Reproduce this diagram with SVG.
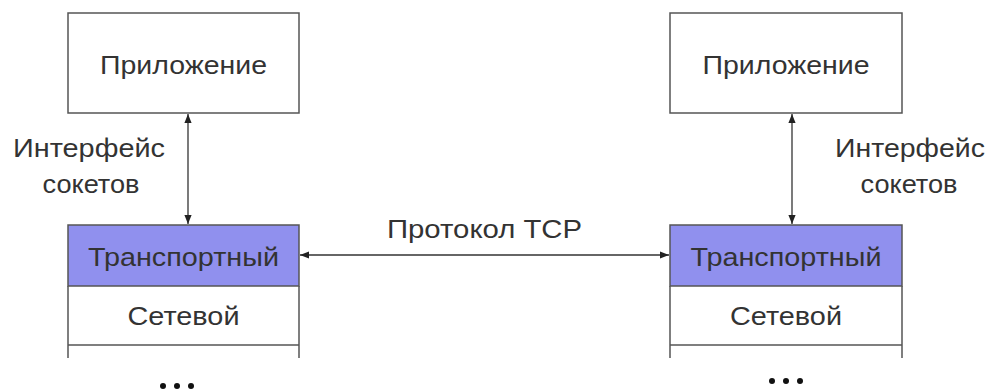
<svg xmlns="http://www.w3.org/2000/svg" width="997" height="389" viewBox="0 0 997 389">
<defs>
<style>
text{font-family:"Liberation Sans",Arial,sans-serif;font-size:26px;fill:#333;text-anchor:middle}
.box{fill:#fff;stroke:#555;stroke-width:1.5}
.tr{fill:#9090ee;stroke:#555;stroke-width:1.5}
.ln{stroke:#555;stroke-width:1.5;fill:none}
.con{stroke:#333;stroke-width:1.3;fill:none;marker-start:url(#ah);marker-end:url(#ah)}
</style>
<marker id="ah" viewBox="0 0 10 10" refX="10" refY="5" markerWidth="9" markerHeight="9" markerUnits="userSpaceOnUse" orient="auto-start-reverse">
<path d="M0,1 L10,5 L0,9 z" fill="#222"/>
</marker>
</defs>
<rect width="997" height="389" fill="#fff"/>
<g id="app-left">
<rect class="box" x="68" y="13" width="231" height="100"/>
<text x="183.5" y="74" textLength="167" lengthAdjust="spacingAndGlyphs">Приложение</text>
</g>
<g id="stack-left">
<rect class="tr" x="68" y="225" width="231" height="61"/>
<text x="183.5" y="266" textLength="191" lengthAdjust="spacingAndGlyphs">Транспортный</text>
<path class="ln" d="M68,286 V358 M299,286 V358 M68,345 H299"/>
<text x="183.5" y="325" textLength="112" lengthAdjust="spacingAndGlyphs">Сетевой</text>
<g fill="#111"><circle cx="163" cy="386" r="3"/><circle cx="177" cy="386" r="3"/><circle cx="191" cy="386" r="3"/></g>
</g>
<g id="label-left">
<text x="89" y="157" textLength="152" lengthAdjust="spacingAndGlyphs">Интерфейс</text>
<text x="91" y="193" textLength="97" lengthAdjust="spacingAndGlyphs">сокетов</text>
</g>
<g id="app-right">
<rect class="box" x="670" y="13" width="232" height="100"/>
<text x="786" y="74" textLength="167" lengthAdjust="spacingAndGlyphs">Приложение</text>
</g>
<g id="stack-right">
<rect class="tr" x="670" y="225" width="232" height="61"/>
<text x="786" y="266" textLength="191" lengthAdjust="spacingAndGlyphs">Транспортный</text>
<path class="ln" d="M670,286 V358 M902,286 V358 M670,345 H902"/>
<text x="786" y="325" textLength="112" lengthAdjust="spacingAndGlyphs">Сетевой</text>
<g fill="#111"><circle cx="772" cy="381" r="3"/><circle cx="786" cy="381" r="3"/><circle cx="800" cy="381" r="3"/></g>
</g>
<g id="label-right">
<text x="910" y="157" textLength="150" lengthAdjust="spacingAndGlyphs">Интерфейс</text>
<text x="909" y="193" textLength="97" lengthAdjust="spacingAndGlyphs">сокетов</text>
</g>
<g id="label-tcp">
<text x="484.5" y="238" textLength="195" lengthAdjust="spacingAndGlyphs">Протокол TCP</text>
</g>
<g id="connectors">
<path class="con" d="M188,114 V224"/>
<path class="con" d="M792,114 V224"/>
<path class="con" d="M300,255 H669"/>
</g>
</svg>
